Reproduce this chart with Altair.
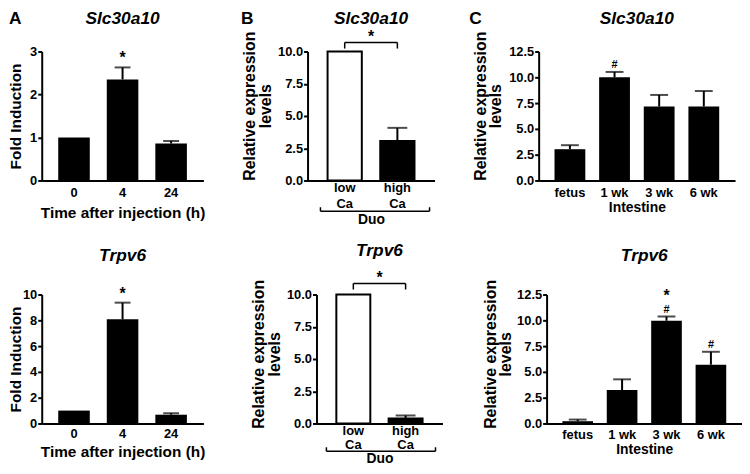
import altair as alt
import pandas as pd

FONT = "Liberation Sans"
H = 130

# ---------------- data ----------------
a_times = ["0", "4", "24"]
a_slc_mean = [1.0, 2.35, 0.86]
a_slc_upper = [1.0, 2.63, 0.92]
a_slc_star = ["", "*", ""]
a_trp_mean = [1.0, 8.08, 0.68]
a_trp_upper = [1.0, 9.37, 0.80]
a_trp_star = ["", "*", ""]

b_diets = ["low Ca", "high Ca"]
b_fill = ["white", "black"]
b_slc_mean = [10.0, 3.06]
b_slc_upper = [10.0, 4.08]
b_trp_mean = [10.0, 0.38]
b_trp_upper = [10.0, 0.62]

c_ages = ["fetus", "1 wk", "3 wk", "6 wk"]
c_slc_mean = [3.03, 10.0, 7.17, 7.17]
c_slc_upper = [3.42, 10.52, 8.29, 8.67]
c_slc_hash = ["", "#", "", ""]
c_slc_star = ["", "", "", ""]
c_trp_mean = [0.22, 3.24, 9.96, 5.70]
c_trp_upper = [0.38, 4.28, 10.37, 6.95]
c_trp_hash = ["", "", "#", "#"]
c_trp_star = ["", "", "*", ""]

a_ticks_slc = [0, 1, 2, 3]
a_ticks_trp = [0, 2, 4, 6, 8, 10]
b_ticks = [0, 2.5, 5, 7.5, 10]
c_ticks = [0, 2.5, 5, 7.5, 10, 12.5]

rel_title = ["Relative expression", "levels"]


def panel(cats, mean, upper, gene, *, width, ymax, yticks, yfmt, ytitle,
          ytitle_x, ytitle_size, ytitle_frac, xtitle, xtitle_y, xtitle_size,
          label_pad, title_y, pad_inner, pad_outer, cap, fills=None,
          stars=None, hashes=None, star_dy=-4, star2_dy=-16, hash_dy=-4,
          letter=None, letter_x=0, multiline=False, line_h=16, bracket=None):
    df = pd.DataFrame({"cat": cats, "mean": mean, "upper": upper})
    if fills is not None:
        df["fill"] = fills
    xextra = {"labelExpr": "split(datum.label, ' ')"} if multiline else {}
    xaxis = alt.Axis(title=xtitle, labelAngle=0, ticks=False, domain=True,
                     domainColor="black", domainWidth=2, labelPadding=label_pad,
                     labelFont=FONT, labelFontSize=13, labelFontWeight="bold",
                     labelColor="black", titleFont=FONT,
                     titleFontSize=xtitle_size, titleFontWeight="bold",
                     titleColor="black", titleY=xtitle_y, titleX=width / 2,
                     titleBaseline="middle", titleAlign="center", grid=False,
                     labelLineHeight=line_h, **xextra)
    yaxis = alt.Axis(title=ytitle, values=yticks, format=yfmt, grid=False,
                     domainColor="black", domainWidth=2, tickColor="black",
                     tickWidth=2, tickSize=4, labelPadding=1, labelFont=FONT,
                     labelFontSize=13, labelFontWeight="bold",
                     labelColor="black", titleFont=FONT,
                     titleFontSize=ytitle_size, titleFontWeight="bold",
                     titleColor="black", titleX=ytitle_x,
                     titleY=H * ytitle_frac, titleAngle=270,
                     titleAlign="center", titleBaseline="middle",
                     titleLineHeight=16)
    xs = alt.Scale(domain=cats, paddingInner=pad_inner, paddingOuter=pad_outer)
    ys = alt.Scale(domain=[0, ymax], nice=False)
    X = alt.X("cat:N", scale=xs, axis=xaxis)

    def Y(field):
        return alt.Y(field, type="quantitative", scale=ys, axis=yaxis)

    layers = []
    if fills is not None:
        layers.append(alt.Chart(df).mark_bar(stroke="black", strokeWidth=2)
                      .encode(x=X, y=Y("mean"),
                              fill=alt.Fill("fill:N", scale=None)))
    else:
        layers.append(alt.Chart(df).mark_bar(color="black")
                      .encode(x=X, y=Y("mean")))
    df_err = df[df["upper"] > df["mean"]]
    layers.append(alt.Chart(df_err).mark_rule(color="black", strokeWidth=2)
                  .encode(x=X, y=Y("mean"), y2="upper"))
    layers.append(alt.Chart(df_err).mark_tick(color="black", size=cap,
                                              thickness=2)
                  .encode(x=X, y=Y("upper")))
    if hashes is not None:
        dh = pd.DataFrame({"cat": cats, "upper": upper, "s": hashes})
        dh = dh[dh["s"] != ""]
        layers.append(alt.Chart(dh).mark_text(font=FONT, fontSize=11,
                                              fontWeight="bold",
                                              baseline="alphabetic",
                                              dy=hash_dy, fill="#000000")
                      .encode(x=X, y=Y("upper"), text="s:N"))
    if stars is not None:
        ds = pd.DataFrame({"cat": cats, "upper": upper, "s": stars})
        ds = ds[ds["s"] != ""]
        dy = star2_dy if hashes is not None else star_dy
        layers.append(alt.Chart(ds).mark_text(font=FONT, fontSize=16,
                                              fontWeight="bold",
                                              baseline="alphabetic",
                                              dy=dy, color="black")
                      .encode(x=X, y=Y("upper"), text="s:N"))
    if bracket is not None:
        top = pd.DataFrame({"cat": [cats[0]], "cat2": [cats[-1]],
                            "y": [bracket["sig"]]})
        legs = pd.DataFrame({"cat": cats, "y": [bracket["sig"]] * len(cats),
                             "y2": [bracket["drop"]] * len(cats)})
        layers.append(alt.Chart(top).mark_rule(color="black", strokeWidth=1.5)
                      .encode(x=X, x2="cat2", y=Y("y")))
        layers.append(alt.Chart(legs).mark_rule(color="black", strokeWidth=1.5)
                      .encode(x=X, y=Y("y"), y2="y2"))
        st = pd.DataFrame({"y": [bracket["sig"]], "s": ["*"]})
        layers.append(alt.Chart(st).mark_text(font=FONT, fontSize=16,
                                              fontWeight="bold",
                                              baseline="alphabetic",
                                              dy=bracket["star_dy"],
                                              color="black")
                      .encode(x=alt.value(width / 2), y=Y("y"), text="s:N"))
        one = pd.DataFrame({"k": [0]})
        by, x0, x1 = bracket["low_y"], bracket["x0"], bracket["x1"]
        layers.append(alt.Chart(one).mark_rule(color="black", strokeWidth=1.5)
                      .encode(x=alt.value(x0), x2=alt.value(x1),
                              y=alt.value(by)))
        for xx in (x0, x1):
            layers.append(alt.Chart(one).mark_rule(color="black",
                                                   strokeWidth=1.5)
                          .encode(x=alt.value(xx), y=alt.value(by - 4),
                                  y2=alt.value(by)))
    layers.append(alt.Chart(pd.DataFrame({"t": [gene]}))
                  .mark_text(font=FONT, fontSize=17.5, fontWeight="bold",
                             fontStyle="italic", align="center",
                             baseline="alphabetic", color="black")
                  .encode(text="t:N", x=alt.value(width / 2),
                          y=alt.value(title_y)))
    if letter is not None:
        layers.append(alt.Chart(pd.DataFrame({"t": [letter]}))
                      .mark_text(font=FONT, fontSize=17.5,
                                 fontWeight="bold", align="left",
                                 baseline="alphabetic", color="black")
                      .encode(text="t:N", x=alt.value(letter_x),
                              y=alt.value(title_y)))
    return alt.layer(*layers).properties(width=width, height=H)


def spacer(w):
    return (alt.Chart(pd.DataFrame({"v": [0]})).mark_point(opacity=0)
            .encode(x=alt.value(0), y=alt.value(0))
            .properties(width=w, height=H))


A1 = panel(a_times, a_slc_mean, a_slc_upper, "Slc30a10", width=163, ymax=3,
           yticks=a_ticks_slc, yfmt="d", ytitle="Fold Induction",
           ytitle_x=-26, ytitle_size=15.5, ytitle_frac=0.5,
           xtitle="Time after injection (h)", xtitle_y=32, xtitle_size=15.5,
           label_pad=6, title_y=-28, pad_inner=0.35, pad_outer=0.34, cap=16,
           stars=a_slc_star, letter="A", letter_x=-33)
A2 = panel(a_times, a_trp_mean, a_trp_upper, "Trpv6", width=163, ymax=10,
           yticks=a_ticks_trp, yfmt="d", ytitle="Fold Induction",
           ytitle_x=-26, ytitle_size=15.5, ytitle_frac=0.5,
           xtitle="Time after injection (h)", xtitle_y=28, xtitle_size=15.5,
           label_pad=4, title_y=-34, pad_inner=0.35, pad_outer=0.34, cap=16,
           stars=a_trp_star)
B1 = panel(b_diets, b_slc_mean, b_slc_upper, "Slc30a10", width=128, ymax=10,
           yticks=b_ticks, yfmt=".1f", ytitle=rel_title, ytitle_x=-58,
           ytitle_size=16, ytitle_frac=0.42, xtitle="Duo", xtitle_y=39,
           xtitle_size=14, label_pad=1, multiline=True, line_h=16,
           title_y=-28, pad_inner=0.35, pad_outer=0.38, cap=20, fills=b_fill,
           letter="B", letter_x=-67,
           bracket={"sig": 10.7, "drop": 10.23, "star_dy": -1,
                    "low_y": H + 31, "x0": 13, "x1": 123})
B2 = panel(b_diets, b_trp_mean, b_trp_upper, "Trpv6", width=127, ymax=10,
           yticks=b_ticks, yfmt=".1f", ytitle=rel_title, ytitle_x=-58,
           ytitle_size=16, ytitle_frac=0.46, xtitle="Duo", xtitle_y=35,
           xtitle_size=14, label_pad=1, multiline=True, line_h=14,
           title_y=-39, pad_inner=0.35, pad_outer=0.38, cap=20, fills=b_fill,
           bracket={"sig": 10.86, "drop": 10.39, "star_dy": 0,
                    "low_y": H + 28, "x0": 10, "x1": 120})
C1 = panel(c_ages, c_slc_mean, c_slc_upper, "Slc30a10", width=198,
           ymax=12.5, yticks=c_ticks, yfmt=".1f", ytitle=rel_title,
           ytitle_x=-59, ytitle_size=16, ytitle_frac=0.42,
           xtitle="Intestine", xtitle_y=27, xtitle_size=14, label_pad=6,
           title_y=-28, pad_inner=0.31, pad_outer=0.355, cap=18,
           hashes=c_slc_hash, stars=c_slc_star, letter="C", letter_x=-70)
C2 = panel(c_ages, c_trp_mean, c_trp_upper, "Trpv6", width=197,
           ymax=12.5, yticks=c_ticks, yfmt=".1f", ytitle=rel_title,
           ytitle_x=-57, ytitle_size=16, ytitle_frac=0.46,
           xtitle="Intestine", xtitle_y=26, xtitle_size=14, label_pad=5,
           title_y=-34, pad_inner=0.31, pad_outer=0.355, cap=18,
           hashes=c_trp_hash, stars=c_trp_star)

row1 = alt.hconcat(A1, spacer(105), B1, spacer(105), C1, spacing=0,
                   bounds="flush")
row2 = alt.hconcat(A2, spacer(114), B2, spacer(105), C2, spacing=0,
                   bounds="flush")

chart = alt.vconcat(row1, row2, spacing=16)
chart = (chart.properties(padding={"left": 0, "top": 0, "right": 0,
                                   "bottom": 0})
         .configure_view(stroke=None))

chart.save("out.html", embed_options={"renderer": "svg", "actions": False})
